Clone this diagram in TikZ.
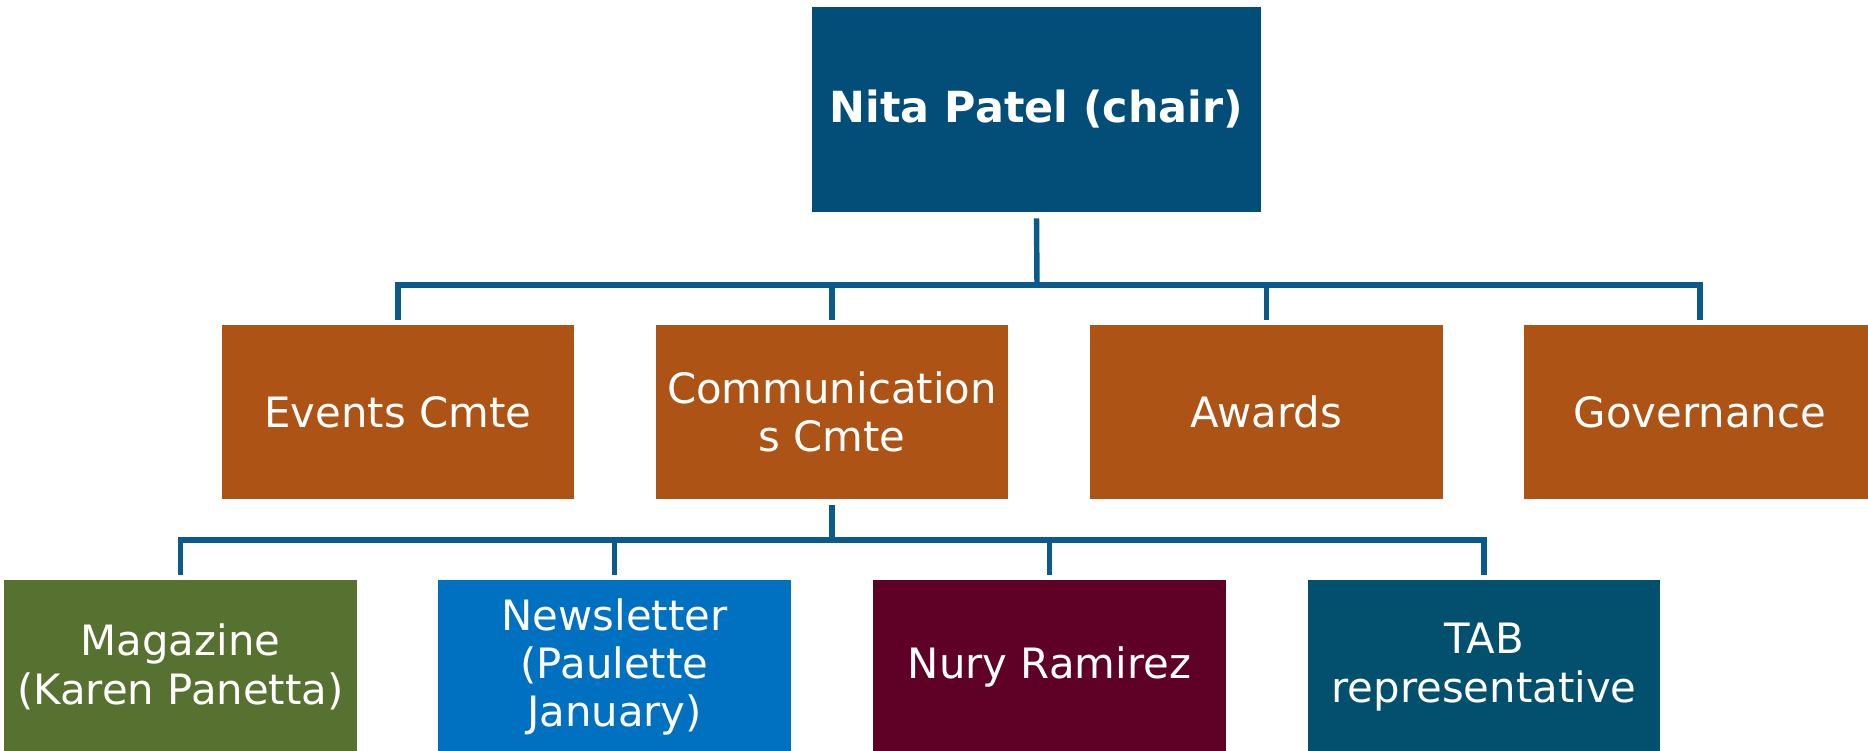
\documentclass[tikz,border=0pt]{standalone}
\usepackage{fontspec}
\setmainfont{DejaVu Sans}
\usetikzlibrary{positioning}
\definecolor{chairblue}{HTML}{024E79}
\definecolor{cmteorange}{HTML}{AD5316}
\definecolor{maggreen}{HTML}{577130}
\definecolor{newsblue}{HTML}{0070C0}
\definecolor{nurymaroon}{HTML}{5F0026}
\definecolor{tabteal}{HTML}{03506E}
\definecolor{linkblue}{HTML}{0B5A8C}
\tikzstyle{unit}=[rectangle,fill=cmteorange,text=white,inner sep=0pt,
minimum width=7.06cm,minimum height=3.48cm,align=center,
font=\fontsize{23.8}{27.5}\selectfont]

\begin{document}
\begin{tikzpicture}[x=0.02cm,y=-0.02cm]
    \tikzstyle{link}=[draw=linkblue,line width=3.1pt]
    \useasboundingbox (0,0) rectangle (1868,750);
    \clip (0,0) rectangle (1868,750);

    % chair
    \node[unit,fill=chairblue,minimum width=8.98cm,minimum height=4.1cm,
    font=\fontsize{24.4}{28}\selectfont\bfseries] at (1036.5,109.5) (chair)
    {Nita Patel (chair)};

    % committees
    \node[unit] at (398,412) (events) {Events Cmte};
    \node[unit] at (832,412) (comm) {Communication\\s Cmte};
    \node[unit] at (1266.5,412) (awards) {Awards};
    \node[unit] at (1700,412) (gov) {Governance};

    % communications teams
    \node[unit,fill=maggreen] at (180.5,667) (mag)
    {Magazine\\(Karen Panetta)};
    \node[unit,fill=newsblue] at (614.5,667) (news)
    {Newsletter\\(Paulette\\January)};
    \node[unit,fill=nurymaroon] at (1049.5,667) (nury) {Nury Ramirez};
    \node[unit,fill=tabteal] at (1484,667) (tab) {TAB\\representative};

    \coordinate (fork1) at (1037,285);
    \draw[link] (chair.south) ++(0,6) -- (fork1);
    \foreach \c in {events,comm,awards,gov}
      \draw[link] (fork1) -| ([yshift=0.1cm]\c.north);

    \coordinate (fork2) at (832,540);
    \draw[link] (comm.south) ++(0,6) -- (fork2);
    \foreach \c in {mag,news,nury,tab}
      \draw[link] (fork2) -| ([yshift=0.1cm]\c.north);
\end{tikzpicture}
\end{document}
